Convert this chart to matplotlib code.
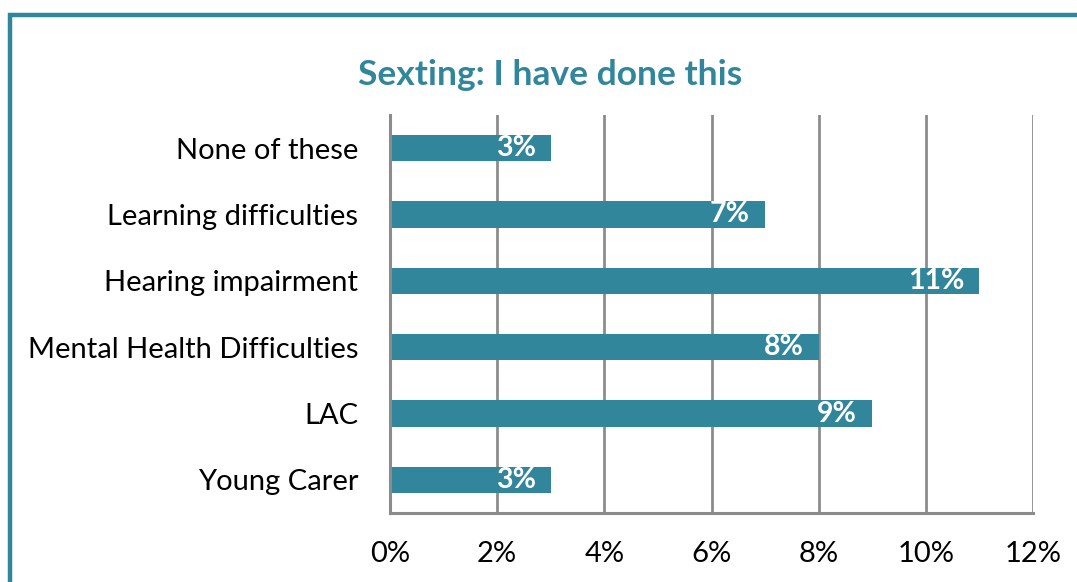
import matplotlib
matplotlib.use("Agg")
import matplotlib.pyplot as plt
from matplotlib.patches import Rectangle
from matplotlib.ticker import FuncFormatter, MultipleLocator

categories = ["None of these", "Learning difficulties", "Hearing impairment",
              "Mental Health Difficulties", "LAC", "Young Carer"]
values = [3, 7, 11, 8, 9, 3]
title = "Sexting: I have done this"

teal = "#31869B"
grid_gray = "#8C8C8C"

plt.rcParams["font.family"] = ["Lato", "DejaVu Sans"]

W, H = 1077, 582
fig = plt.figure(figsize=(W / 100, H / 100), dpi=100)
fig.patch.set_facecolor("white")

# outer chart frame, running off the right and bottom edges
fig.patches.append(Rectangle((10 / W, -0.1), 1.2, 1 - 15 / H + 0.1,
                             transform=fig.transFigure, fill=False,
                             edgecolor=teal, linewidth=3.2, zorder=0))

ax = fig.add_axes([390 / W, (H - 513) / H, (1033 - 390) / W, (513 - 115) / H])
y = list(range(len(categories)))
ax.barh(y, values, height=0.4, color=teal, zorder=3)
ax.set_ylim(len(categories) - 0.5, -0.5)
ax.set_xlim(0, 12)
ax.set_yticks(y)
ax.set_yticklabels(categories, fontsize=21, color="black")
ax.xaxis.set_major_locator(MultipleLocator(2))
ax.xaxis.set_major_formatter(FuncFormatter(lambda v, p: f"{v:.0f}%"))
ax.tick_params(axis="x", labelsize=21, length=0, pad=20, colors="black")
ax.tick_params(axis="y", length=0, pad=23)
ax.grid(axis="x", color=grid_gray, linewidth=2, zorder=1)
for side in ("top", "right"):
    ax.spines[side].set_visible(False)
for side in ("left", "bottom"):
    ax.spines[side].set_color(grid_gray)
    ax.spines[side].set_linewidth(2.2)
    ax.spines[side].set_zorder(4)

for yi, v in zip(y, values):
    ax.text(v - 0.28, yi, f"{v}%", ha="right", va="center", color="white",
            fontsize=20.5, fontweight="bold", zorder=5)

fig.text(550 / W, 1 - 75 / H, title, ha="center", va="center",
         fontsize=25.5, fontweight="bold", color=teal)

fig.savefig("out.png", dpi=100)
